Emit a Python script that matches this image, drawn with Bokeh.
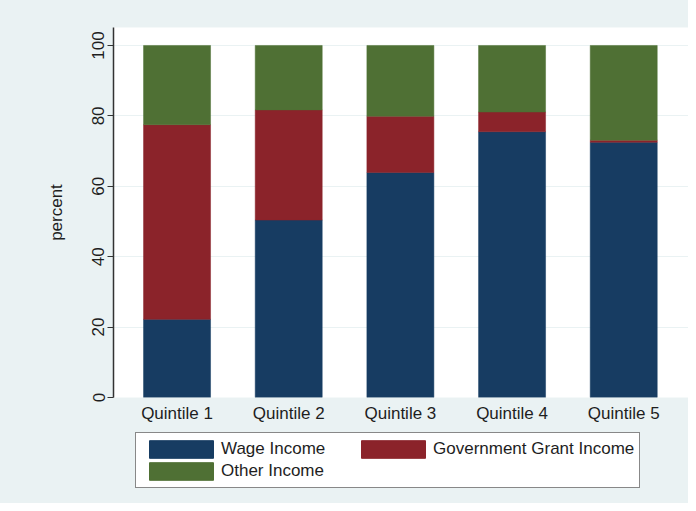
from bokeh.plotting import figure
from bokeh.layouts import column
from bokeh.models import ColumnDataSource, Range1d, FixedTicker, Legend, LegendItem
from bokeh.embed import file_html
from bokeh.resources import INLINE

categories = ["Quintile 1", "Quintile 2", "Quintile 3", "Quintile 4", "Quintile 5"]
wage = [22.2, 50.4, 63.9, 75.5, 72.5]
gov = [55.3, 31.3, 16.0, 5.6, 0.6]
other = [22.5, 18.3, 20.1, 18.9, 26.9]
series = ["wage", "gov", "other"]
series_labels = ["Wage Income", "Government Grant Income", "Other Income"]
colors = ["#173c62", "#8b232a", "#4f7034"]
y_ticks = [0, 20, 40, 60, 80, 100]

pos = list(range(1, len(categories) + 1))
source = ColumnDataSource(dict(x=pos, wage=wage, gov=gov, other=other))

BG = "#eaf2f3"
FONT = "Liberation Sans"
TXT = "#1e1e1e"
FS = "17px"

p = figure(width=688, height=425, output_backend="svg", toolbar_location=None,
           x_range=Range1d(0.431, 5.58), y_range=Range1d(0, 105.1),
           min_border_left=113, min_border_right=0, min_border_top=27,
           min_border_bottom=28)
p.background_fill_color = "white"
p.border_fill_color = BG
p.outline_line_color = None

renderers = p.vbar_stack(series, x="x", width=0.6, source=source,
                         color=colors, line_color=colors, line_width=0.5)

# axes
p.xaxis.ticker = FixedTicker(ticks=pos)
p.xaxis.major_label_overrides = {i: c for i, c in zip(pos, categories)}
p.xaxis.axis_line_color = None
p.xaxis.major_tick_line_color = None
p.xaxis.major_tick_out = 0
p.xaxis.major_tick_in = 0
p.xaxis.minor_tick_line_color = None
p.xaxis.major_label_standoff = 6

p.yaxis.ticker = FixedTicker(ticks=y_ticks)
p.yaxis.major_label_orientation = "vertical"
p.yaxis.axis_label = "percent"
p.yaxis.axis_line_color = "#333333"
p.yaxis.axis_line_width = 1.5
p.yaxis.major_tick_line_color = "#333333"
p.yaxis.major_tick_out = 6
p.yaxis.major_tick_in = 0
p.yaxis.minor_tick_line_color = None
p.yaxis.major_label_standoff = 3
p.yaxis.axis_label_standoff = 24

for ax in (p.xaxis, p.yaxis):
    ax.major_label_text_font = FONT
    ax.major_label_text_font_size = FS
    ax.major_label_text_color = TXT
    ax.axis_label_text_font = FONT
    ax.axis_label_text_font_size = FS
    ax.axis_label_text_font_style = "normal"
    ax.axis_label_text_color = TXT

p.xgrid.grid_line_color = None
p.ygrid.grid_line_color = BG
p.ygrid.grid_line_width = 1

# legend panel below the chart (swatch renderers use the same data, kept out of view)
lg = figure(width=688, height=78, output_backend="svg", toolbar_location=None,
            x_range=Range1d(100, 101), y_range=Range1d(1000, 1001),
            min_border=0, x_axis_type=None, y_axis_type=None)
lg.background_fill_color = BG
lg.border_fill_color = BG
lg.outline_line_color = None
lg.xgrid.visible = False
lg.ygrid.visible = False
swatches = {s: lg.vbar(x="x", top=s, width=0.6, source=source, color=c)
            for s, c in zip(series, colors)}
labels = dict(zip(series, series_labels))

order = ["wage", "other", "gov"]  # column-major fill: col 1 = wage, other; col 2 = gov
items = [LegendItem(label=labels[s], renderers=[swatches[s]]) for s in order]
legend = Legend(items=items, location=(22, 15), ncols=2,
                glyph_width=80, glyph_height=22, label_standoff=0,
                spacing=0, padding=5, margin=0, label_width=132,
                label_text_font=FONT, label_text_font_size=FS,
                label_text_color=TXT, label_height=22,
                border_line_color="#111111", border_line_width=1.5,
                background_fill_color="white", background_fill_alpha=1.0)
lg.add_layout(legend, "center")

layout = column(p, lg, spacing=0, styles={"background-color": BG})
open("out.html", "w").write(file_html(layout, INLINE))
